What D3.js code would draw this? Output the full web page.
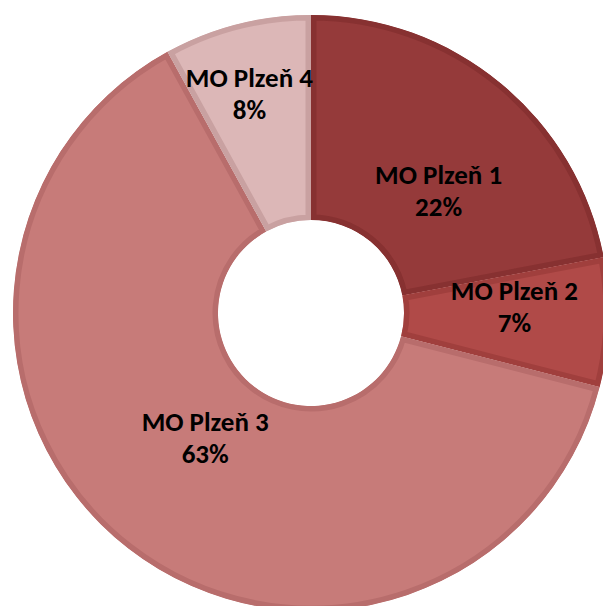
<!DOCTYPE html>
<html>
<head>
<meta charset="utf-8">
<script src="https://cdn.jsdelivr.net/npm/d3@7/dist/d3.min.js"></script>
<style>
  html, body { margin: 0; padding: 0; background: #fff; }
  svg { display: block; }
  .lbl { font-family: Carlito, Lato, "Liberation Sans", sans-serif; font-weight: 700; fill: #000; }
</style>
</head>
<body>
<svg id="chart" width="603" height="606"></svg>
<script>
// Share of each municipal district (percent)
const districts = ["MO Plzeň 1", "MO Plzeň 2", "MO Plzeň 3", "MO Plzeň 4"];
const shares = [22, 7, 63, 8];
const fills = ["#953a3a", "#b04a48", "#c77b79", "#dcb7b7"];
const borders = ["#873131", "#a03f3d", "#b86d6c", "#c9a1a1"];
// label nudges from the slice centroid (dx, dy)
const labelNudge = [[3, 28], [8, -12.5], [14, -30], [-13, -30]];

const W = 603, H = 606;
const cx = 311, cy = 313, outerR = 298, innerR = 93;
const borderW = 5.5;

const svg = d3.select("#chart");
const g = svg.append("g").attr("transform", `translate(${cx},${cy})`);

const data = districts.map((name, i) => ({ name, value: shares[i], i }));
const pie = d3.pie().value(d => d.value).sort(null);
const arc = d3.arc().innerRadius(innerR).outerRadius(outerR);
const arcs = pie(data);

const defs = svg.append("defs");
arcs.forEach((a, i) => {
  defs.append("clipPath").attr("id", "clip" + i)
    .append("path").attr("d", arc(a));
});

// slices: fill plus an inner border clipped to the slice shape
g.selectAll("path.slice")
  .data(arcs)
  .join("path")
  .attr("class", "slice")
  .attr("d", arc)
  .attr("fill", d => fills[d.data.i])
  .attr("stroke", d => borders[d.data.i])
  .attr("stroke-width", borderW * 2)
  .attr("clip-path", d => `url(#clip${d.data.i})`);

// labels: name on the first line, percentage on the second
const fontSize = 27;
const lineGap = 32;
const labels = g.selectAll("text.lbl")
  .data(arcs)
  .join("text")
  .attr("class", "lbl")
  .attr("text-anchor", "middle")
  .style("font-size", fontSize + "px")
  .attr("transform", d => {
    const c = arc.centroid(d);
    const n = labelNudge[d.data.i];
    return `translate(${c[0] + n[0]},${c[1] + n[1]})`;
  });
labels.append("tspan").attr("x", 0).attr("y", -lineGap / 2 + fontSize * 0.35)
  .text(d => d.data.name);
labels.append("tspan").attr("x", 0).attr("y", lineGap / 2 + fontSize * 0.35)
  .text(d => d.data.value + "%");
</script>
</body>
</html>
